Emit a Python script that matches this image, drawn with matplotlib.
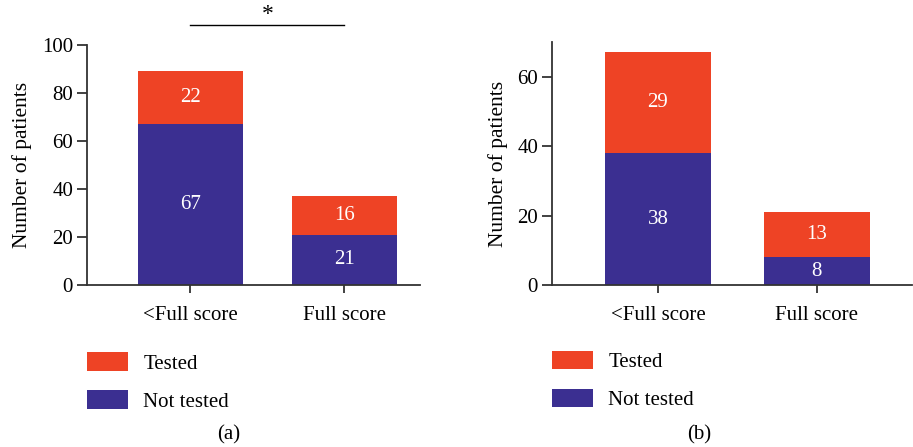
import matplotlib
matplotlib.use("Agg")
import matplotlib.pyplot as plt
import numpy as np

plt.rcParams['font.family'] = ['Liberation Serif', 'DejaVu Serif']

categories = ['<Full score', 'Full score']
not_tested_a = [67, 21]
tested_a = [22, 16]
not_tested_b = [38, 8]
tested_b = [29, 13]

red = '#EE4325'
blue = '#3B2F91'
axis_col = '#333333'
fs = 15

fig = plt.figure(figsize=(9.13, 4.47), dpi=100)
ax1 = fig.add_axes([0.0953, 0.3624, 0.3647, 0.5369])
ax2 = fig.add_axes([0.6046, 0.3624, 0.3944, 0.5436])


def draw(ax, nt, t, ylim, yticks, xlim, width, legy):
    x = np.arange(len(categories))
    ax.bar(x, nt, width, color=blue, label='Not tested')
    ax.bar(x, t, width, bottom=nt, color=red, label='Tested')
    for i in range(len(x)):
        ax.text(x[i], nt[i] / 2, str(nt[i]), color='white', ha='center', va='center', fontsize=fs)
        ax.text(x[i], nt[i] + t[i] / 2, str(t[i]), color='white', ha='center', va='center', fontsize=fs)
    ax.set_xlim(*xlim)
    ax.set_ylim(*ylim)
    ax.set_yticks(yticks)
    ax.set_xticks(x)
    ax.set_xticklabels(categories)
    ax.spines['top'].set_visible(False)
    ax.spines['right'].set_visible(False)
    for s in ['left', 'bottom']:
        ax.spines[s].set_color(axis_col)
        ax.spines[s].set_linewidth(1.3)
    ax.tick_params(axis='y', length=7, width=1.3, color=axis_col, labelsize=fs, pad=3)
    ax.tick_params(axis='x', length=6, width=1.3, color=axis_col, labelsize=fs, pad=9)
    ax.set_ylabel('Number of patients', fontsize=15.5, labelpad=7)
    h, l = ax.get_legend_handles_labels()
    ax.legend(h[::-1], l[::-1], loc='upper left', bbox_to_anchor=(0, legy), frameon=False,
              fontsize=fs, borderpad=0, borderaxespad=0, handlelength=1.95, handleheight=1.0,
              handletextpad=0.75, labelspacing=0.8)


draw(ax1, not_tested_a, tested_a, (0, 100), [0, 20, 40, 60, 80, 100], (-0.67, 1.49), 0.68, -0.28)
# significance bar
ax1.plot([0, 1], [108.3, 108.3], color='black', lw=1, clip_on=False)
ax1.text(0.5, 108.5, '*', ha='center', va='bottom', fontsize=17)
fig.text(0.251, 0.027, '(a)', ha='center', va='center', fontsize=fs)

draw(ax2, not_tested_b, tested_b, (0, 70), [0, 20, 40, 60], (-0.667, 1.6), 0.67, -0.27)
fig.text(0.766, 0.027, '(b)', ha='center', va='center', fontsize=fs)

fig.savefig('out.png', dpi=100)
